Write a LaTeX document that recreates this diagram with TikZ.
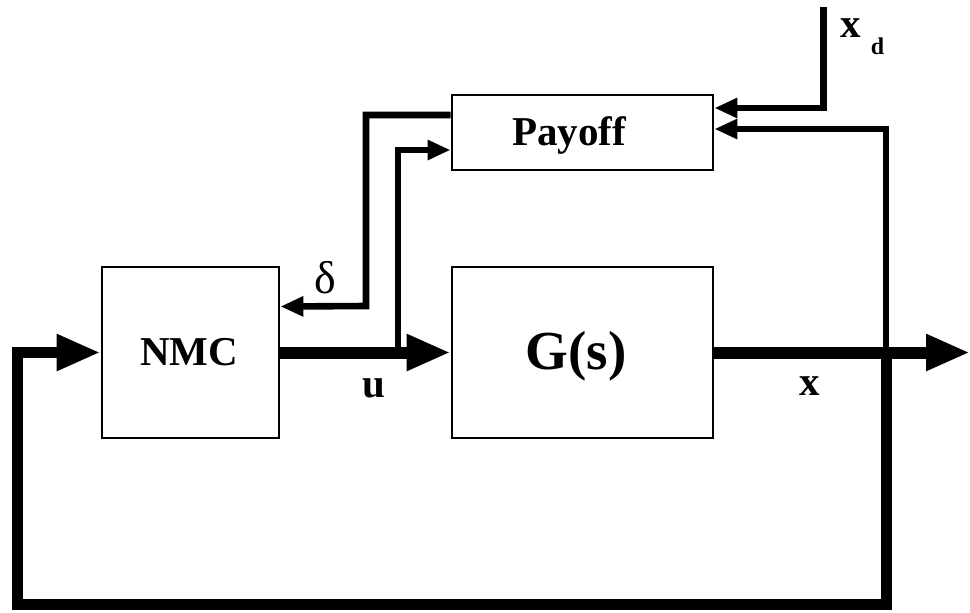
\documentclass[tikz,border=0pt]{standalone}
\usepackage{fontspec}
\setmainfont{Liberation Serif}
\usetikzlibrary{arrows.meta}
\begin{document}
\begin{tikzpicture}[x=0.5pt,y=-0.5pt,
  blk/.style={draw, line width=1.4pt, inner sep=0pt},
  bigsig/.style={line width=6pt, line join=miter, -{Triangle[length=22pt,width=17pt]}},
  fbsig/.style={line width=5.5pt, line join=miter, -{Triangle[length=22pt,width=17pt]}},
  medsig/.style={line width=3.3pt, line join=miter, -{Triangle[length=11.5pt,width=9.5pt]}},
  txt/.style={inner sep=0pt, anchor=base, font=\bfseries\fontsize{20.5}{24}\selectfont}]
\useasboundingbox (0,0) rectangle (970,612);
% blocks
\node[blk, minimum width=88.5pt, minimum height=85.5pt] (NMC) at (190.5,352.5) {};
\node[blk, minimum width=130.5pt, minimum height=85.5pt] (G) at (582.5,352.5) {};
\node[blk, minimum width=130.5pt, minimum height=37.5pt] (P) at (582.5,132.5) {};
\node[txt] (NMCt) at (189,365) {NMC};
\node[txt, font=\bfseries\fontsize{27.5}{32}\selectfont] (Gt) at (576,369) {G(s)};
\node[txt] (Pt) at (569,145) {Payoff};
% coordinates
\coordinate (usplit) at (398,352.5);
\coordinate (xsplit) at (886,352.5);
\coordinate (out) at (970,352.5);
\coordinate (br) at (886,604);
\coordinate (bl) at (17,604);
\coordinate (xdtop) at (823.5,7);
\coordinate (dturn) at (366,306);
% main signals
\draw[bigsig] (NMC.east) -- (G.west);
\draw[bigsig] (G.east) -- (out);
\draw[fbsig] (xsplit) -- (br) -- (bl) |- (NMC.west);
% payoff connections
\draw[medsig] (xsplit) |- ([yshift=1.75pt]P.east);
\draw[medsig] (xdtop) |- ([yshift=12.25pt]P.east);
\draw[medsig] (usplit) |- ([yshift=-8.75pt]P.west);
\draw[medsig] ([yshift=8.75pt]P.west) -| (dturn) -- ([yshift=23pt]NMC.east);
% labels
\node[inner sep=0pt, anchor=base, font=\fontsize{23}{26}\selectfont] (dl) at (325,293) {δ};
\node[txt] (ul) at (374,397) {u};
\node[txt] (xl) at (810,395) {x};
\node[txt] (xdl) at (851,37) {x};
\node[inner sep=0pt, anchor=base, font=\bfseries\fontsize{12}{14}\selectfont] (dsub) at (877.5,54) {d};
\end{tikzpicture}
\end{document}
